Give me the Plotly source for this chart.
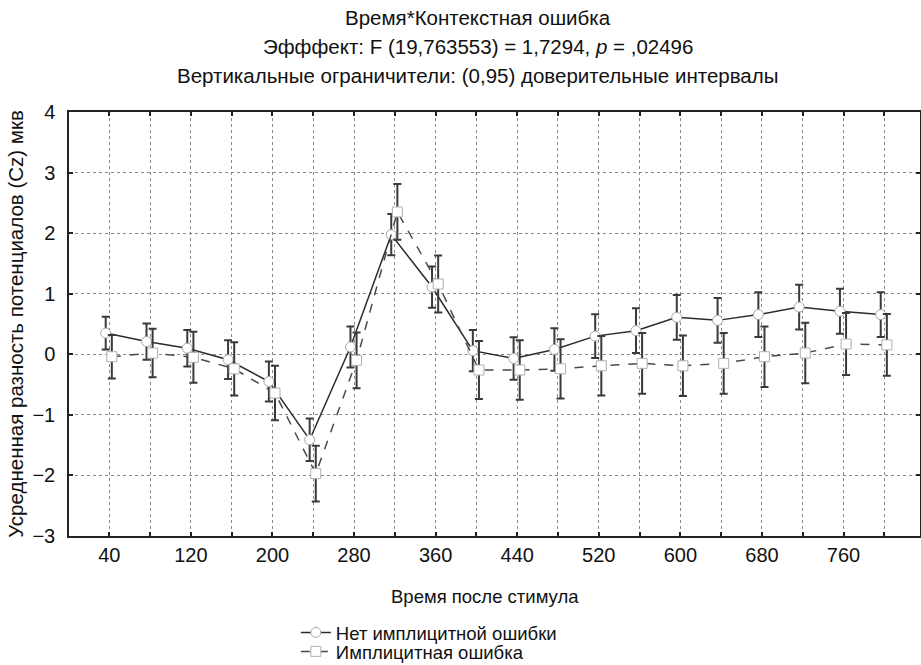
import plotly.graph_objects as go

# Time after stimulus (ms) and group means with 95% CI half-widths
time_ms = [40, 80, 120, 160, 200, 240, 280, 320, 360, 400,
           440, 480, 520, 560, 600, 640, 680, 720, 760, 800]
tick_labels = ["40", "", "120", "", "200", "", "280", "", "360", "",
               "440", "", "520", "", "600", "", "680", "", "760", ""]

no_error_mean = [0.35, 0.21, 0.10, -0.09, -0.45, -1.41, 0.12, 1.975, 1.11, 0.06,
                 -0.07, 0.08, 0.30, 0.39, 0.61, 0.56, 0.655, 0.78, 0.71, 0.655]
no_error_ci = [0.27, 0.30, 0.30, 0.32, 0.33, 0.35, 0.34, 0.34, 0.34, 0.34,
               0.35, 0.35, 0.36, 0.37, 0.37, 0.37, 0.37, 0.37, 0.37, 0.37]

implicit_mean = [-0.04, 0.02, -0.05, -0.24, -0.64, -1.97, -0.10, 2.35, 1.16, -0.26,
                 -0.26, -0.24, -0.19, -0.15, -0.19, -0.15, -0.04, 0.02, 0.17, 0.155]
implicit_ci = [0.36, 0.40, 0.42, 0.44, 0.45, 0.46, 0.46, 0.46, 0.47, 0.48,
               0.49, 0.49, 0.49, 0.50, 0.50, 0.50, 0.50, 0.50, 0.51, 0.51]

# small horizontal shift so the two groups' whiskers do not overlap
shift_a, shift_b = -3.5, 2.5

FONT = "Liberation Sans, Arial, sans-serif"

fig = go.Figure()

fig.add_trace(go.Scatter(
    x=[t + shift_a for t in time_ms], y=no_error_mean,
    name="Нет имплицитной ошибки", legend="legend",
    mode="lines+markers",
    line=dict(color="#2b2b2b", width=1.5),
    marker=dict(symbol="circle", size=10, color="white",
                line=dict(color="#a8a8a8", width=1)),
    error_y=dict(type="data", array=no_error_ci, visible=True,
                 color="#3a3a3a", thickness=2, width=4),
))

fig.add_trace(go.Scatter(
    x=[t + shift_b for t in time_ms], y=implicit_mean,
    name="Имплицитная ошибка", legend="legend2",
    mode="lines+markers",
    line=dict(color="#4a4a4a", width=1.5, dash="dash"),
    marker=dict(symbol="square", size=10, color="white",
                line=dict(color="#b0b0b0", width=1)),
    error_y=dict(type="data", array=implicit_ci, visible=True,
                 color="#3a3a3a", thickness=2, width=4),
))

axis_common = dict(
    showline=True, linecolor="#222", linewidth=1.5, mirror="ticks",
    ticks="inside", ticklen=4, tickcolor="#222", tickwidth=1.5,
    showgrid=True, gridcolor="#8a8a8a", gridwidth=1, griddash="dot",
    zeroline=False,
    tickfont=dict(family=FONT, size=20, color="#111"),
)

fig.update_xaxes(
    **axis_common,
    range=[0.5, 835], tickmode="array", tickvals=time_ms, ticktext=tick_labels,
)
fig.update_yaxes(
    **axis_common,
    range=[-3, 4], dtick=1, tick0=0, ticklabelstandoff=8,
    title=dict(text="Усредненная разность потенциалов (Cz) мкв",
               font=dict(family=FONT, size=20.5, color="#111"), standoff=3),
)

plot_left, plot_right = 69, 920.5
plot_top, plot_bottom = 111.5, 536
plot_w = plot_right - plot_left
plot_h = plot_bottom - plot_top


def px_to_paper(xpx, ypx):
    return (xpx - plot_left) / plot_w, (plot_bottom - ypx) / plot_h


title_lines = [
    "Время*Контекстная ошибка",
    "Эфффект: F (19,763553) = 1,7294, <i>p</i> = ,02496",
    "Вертикальные ограничители: (0,95) доверительные интервалы",
]
title_px = [17, 46, 75]
for text, ypx in zip(title_lines, title_px):
    px, py = px_to_paper(478, ypx)
    fig.add_annotation(
        text=text, xref="paper", yref="paper", x=px, y=py,
        showarrow=False, xanchor="center", yanchor="middle",
        font=dict(family=FONT, size=20.5, color="#111"),
    )

# x-axis caption
cx, cy = px_to_paper(485, 597)
fig.add_annotation(
    text="Время после стимула", xref="paper", yref="paper", x=cx, y=cy,
    showarrow=False, xanchor="center", yanchor="middle",
    font=dict(family=FONT, size=18.5, color="#111"),
)

legend_style = dict(
    x=(296 - plot_left) / plot_w, xanchor="left", yanchor="middle",
    orientation="v", font=dict(family=FONT, size=18.5, color="#111"),
    bgcolor="rgba(0,0,0,0)", borderwidth=0, itemwidth=30,
)

fig.update_layout(
    width=921, height=665,
    margin=dict(l=69, r=0.5, t=111.5, b=129, pad=0, autoexpand=False),
    paper_bgcolor="white", plot_bgcolor="white",
    showlegend=True,
    legend=dict(**legend_style, y=(plot_bottom - 633) / plot_h),
    legend2=dict(**legend_style, y=(plot_bottom - 652) / plot_h),
    font=dict(family=FONT, color="#111"),
)

fig.write_html("out.html")
